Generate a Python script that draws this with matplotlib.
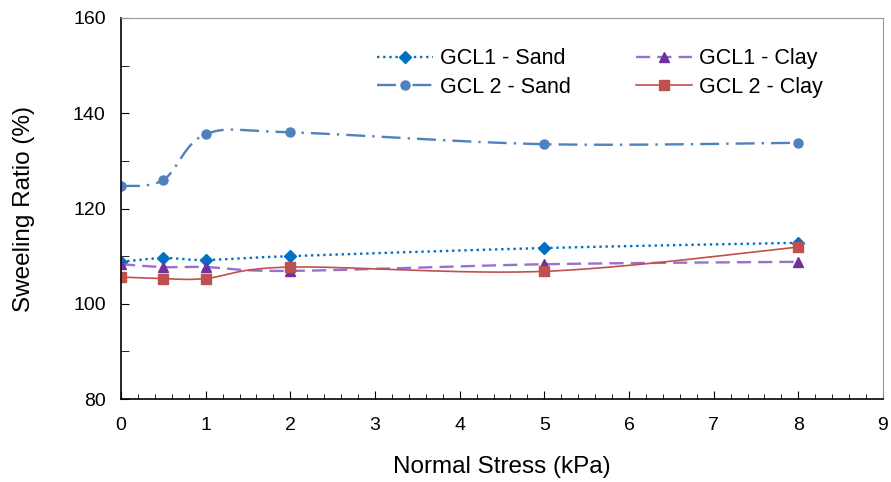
import numpy as np
import matplotlib.pyplot as plt
from matplotlib.ticker import MultipleLocator

plt.rcParams['font.family'] = ['Liberation Sans', 'DejaVu Sans']

# normal stress (kPa)
stress = [0, 0.5, 1, 2, 5, 8]

# swelling ratio (%)
gcl1_sand = [108.8, 109.6, 109.2, 110.0, 111.7, 112.8]
gcl2_sand = [124.7, 126.0, 135.6, 136.0, 133.5, 133.8]
gcl1_clay = [108.3, 107.7, 107.7, 106.9, 108.3, 108.8]
gcl2_clay = [105.6, 105.3, 105.3, 107.7, 106.8, 111.9]

XMAX, YMIN, YMAX = 9, 80, 160


def smooth(x, y, n=30):
    # bezier smoothing through the points, like a spreadsheet "smoothed line"
    px = np.asarray(x, float) / XMAX * 7.6
    py = (np.asarray(y, float) - YMIN) / (YMAX - YMIN) * 3.8
    pts = np.column_stack([px, py])
    out = [pts[0]]
    for i in range(len(pts) - 1):
        p0 = pts[max(i - 1, 0)]
        p1 = pts[i]
        p2 = pts[i + 1]
        p3 = pts[min(i + 2, len(pts) - 1)]
        c1 = p1 + (p2 - p0) / 6
        c2 = p2 - (p3 - p1) / 6
        t = np.linspace(0, 1, n)[1:, None]
        seg = ((1 - t) ** 3) * p1 + 3 * ((1 - t) ** 2) * t * c1 \
            + 3 * (1 - t) * t ** 2 * c2 + t ** 3 * p2
        out.extend(seg)
    out = np.array(out)
    return out[:, 0] / 7.6 * XMAX, out[:, 1] / 3.8 * (YMAX - YMIN) + YMIN


fig = plt.figure(figsize=(8.91, 4.82), dpi=100)
ax = fig.add_axes([121 / 891, 1 - 399 / 482, 762 / 891, 381 / 482])

series = [
    ('GCL1 - Sand', gcl1_sand, '#0070C0', '#0070C0', (0, (1, 1.6)), 'D', 6.5),
    ('GCL1 - Clay', gcl1_clay, '#9B6FCF', '#7030A0', (0, (6, 3)), '^', 7.5),
    ('GCL 2 - Sand', gcl2_sand, '#4F81BD', '#4F81BD', (0, (8, 3, 1, 3)), 'o', 6.5),
    ('GCL 2 - Clay', gcl2_clay, '#C0504D', '#C0504D', '-', 's', 6.5),
]

handles = {}
for name, vals, lc, mc, ls, mk, ms in series:
    lw = 1.2 if ls == '-' else 1.7
    sx, sy = smooth(stress, vals)
    ax.plot(sx, sy, color=lc, linestyle=ls, linewidth=lw)
    ax.plot(stress, vals, linestyle='none', marker=mk, markersize=ms,
            color=mc, markeredgecolor=mc)
    h, = ax.plot([], [], color=lc, linestyle=ls, linewidth=lw,
                 marker=mk, markersize=ms, markerfacecolor=mc, markeredgecolor=mc)
    handles[name] = h

ax.set_xlim(0, XMAX)
ax.set_ylim(YMIN, YMAX)
ax.xaxis.set_major_locator(MultipleLocator(1))
ax.xaxis.set_minor_locator(MultipleLocator(0.2))
ax.yaxis.set_major_locator(MultipleLocator(20))
ax.yaxis.set_minor_locator(MultipleLocator(10))
ax.tick_params(axis='both', which='both', direction='in', labelsize=14,
               colors='black')
ax.tick_params(axis='x', which='major', length=6, pad=13)
ax.tick_params(axis='x', which='minor', length=3.5)
ax.tick_params(axis='y', which='both', length=6, pad=11)

for s in ['top', 'right']:
    ax.spines[s].set_color('#999999')
for s in ['left', 'bottom']:
    ax.spines[s].set_color('black')
    ax.spines[s].set_linewidth(1.2)

ax.set_xlabel('Normal Stress (kPa)', fontsize=17.5, labelpad=16)
ax.set_ylabel('Sweeling Ratio (%)', fontsize=17.5, labelpad=27)

order = ['GCL1 - Sand', 'GCL 2 - Sand', 'GCL1 - Clay', 'GCL 2 - Clay']
ax.legend([handles[k] for k in order], order, ncol=2, frameon=False,
          fontsize=15.5, loc='upper left', bbox_to_anchor=(0.31, 0.972),
          handlelength=2.6, columnspacing=3.0, labelspacing=0.35,
          handletextpad=0.35)

fig.savefig('out.png', dpi=100)
